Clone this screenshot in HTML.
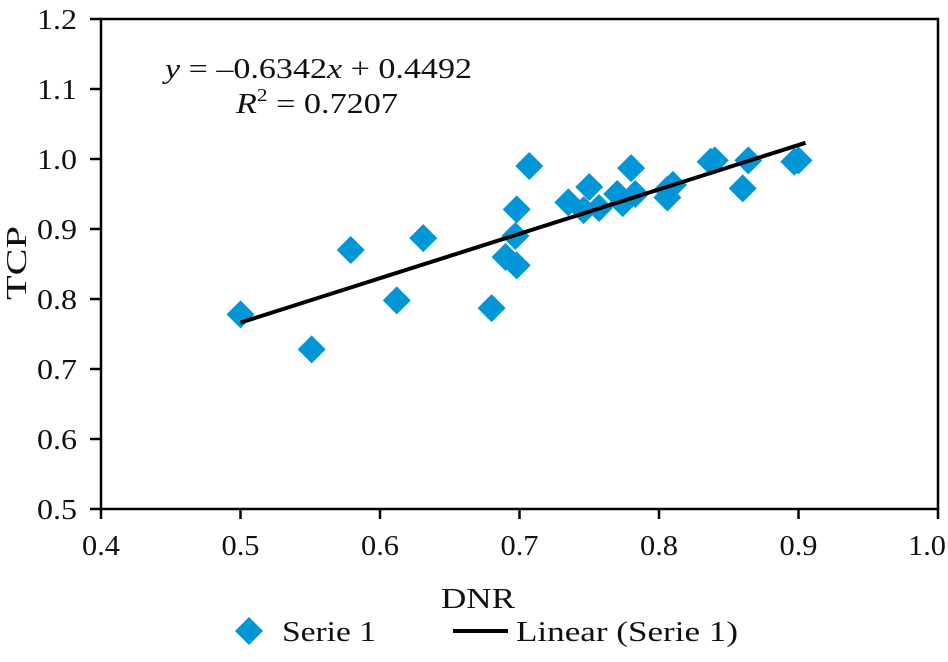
<!DOCTYPE html>
<html><head><meta charset="utf-8"><style>
body{margin:0;background:#fff}
svg text{font-family:"Liberation Serif",serif;fill:#111}
</style></head><body>
<svg width="948" height="657">
<g id="g"></g>
<text x="165" y="78" font-size="29" textLength="307" lengthAdjust="spacingAndGlyphs"><tspan font-style="italic">y</tspan> = –0.6342<tspan font-style="italic">x</tspan> + 0.4492</text>
<text x="236" y="113" font-size="29" textLength="162" lengthAdjust="spacingAndGlyphs"><tspan font-style="italic">R</tspan><tspan font-size="18" dy="-12">2</tspan><tspan dy="12"> = 0.7207</tspan></text>
<text x="478" y="608" font-size="29" text-anchor="middle" textLength="74" lengthAdjust="spacingAndGlyphs">DNR</text>
<text transform="translate(26,263) rotate(-90)" font-size="29" text-anchor="middle" textLength="74" lengthAdjust="spacingAndGlyphs">TCP</text>
<g>
<path d="M249 617 L263 631 L249 645 L235 631 Z" fill="#0096d8"/>
<text x="282" y="641" font-size="29" textLength="94" lengthAdjust="spacingAndGlyphs">Serie 1</text>
<line x1="453" y1="631" x2="508" y2="631" stroke="#000" stroke-width="4"/>
<text x="516" y="641" font-size="29" textLength="222" lengthAdjust="spacingAndGlyphs">Linear (Serie 1)</text>
</g>
</svg>
<script>
const xs=[0.5,0.551,0.579,0.612,0.631,0.68,0.69,0.698,0.697,0.698,0.707,0.735,0.75,0.746,0.757,0.77,0.774,0.78,0.783,0.806,0.806,0.81,0.837,0.84,0.86,0.864,0.897,0.9];
const ys=[0.778,0.728,0.87,0.798,0.887,0.787,0.86,0.848,0.89,0.928,0.99,0.938,0.96,0.927,0.93,0.95,0.937,0.987,0.95,0.956,0.945,0.963,0.996,0.998,0.958,0.998,0.996,0.998];
const xTicks=["0.4","0.5","0.6","0.7","0.8","0.9","1.0"];
const yTicks=["0.5","0.6","0.7","0.8","0.9","1.0","1.1","1.2"];
const slope=0.6342, intercept=0.4492, fitRange=[0.5,0.905];
const X=v=>101+(v-0.4)/0.6*837, Y=v=>509-(v-0.5)/0.7*490;
const g=document.getElementById('g'),NS='http://www.w3.org/2000/svg';
function mk(t,a){const e=document.createElementNS(NS,t);for(const k in a)e.setAttribute(k,a[k]);g.appendChild(e);return e;}
let e=mk('path',{d:`M${X(0.4)} ${Y(1.2)} H${X(1.0)} V${Y(0.5)} H${X(0.4)} Z`,fill:'none',stroke:'#000','stroke-width':2.5});


xTicks.forEach(t=>{const x=X(+t);
 let l=mk('line',{x1:x,x2:x,y1:509,y2:519,stroke:'#000','stroke-width':2.5});
 
 
 let s=mk('text',{x:Math.min(x,927),y:555,'font-size':29,'text-anchor':'middle',textLength:38,lengthAdjust:'spacingAndGlyphs'});s.textContent=t;
 
 });
yTicks.forEach(t=>{const y=Y(+t);
 let l=mk('line',{x1:90,x2:101,y1:y,y2:y,stroke:'#000','stroke-width':2.5});
 
 
 let s=mk('text',{x:77,y:y+10,'font-size':29,'text-anchor':'end',textLength:40,lengthAdjust:'spacingAndGlyphs'});s.textContent=t;
 
 });
xs.forEach((v,i)=>{const cx=X(v),cy=Y(ys[i]);
 let p=mk('path',{d:`M${cx} ${cy-14} L${cx+14} ${cy} L${cx} ${cy+14} L${cx-14} ${cy} Z`,fill:'#0096d8'});
 
 });
let ln=mk('line',{x1:X(fitRange[0]),y1:Y(slope*fitRange[0]+intercept),x2:X(fitRange[1]),y2:Y(slope*fitRange[1]+intercept),stroke:'#000','stroke-width':4});


</script>
</body></html>
